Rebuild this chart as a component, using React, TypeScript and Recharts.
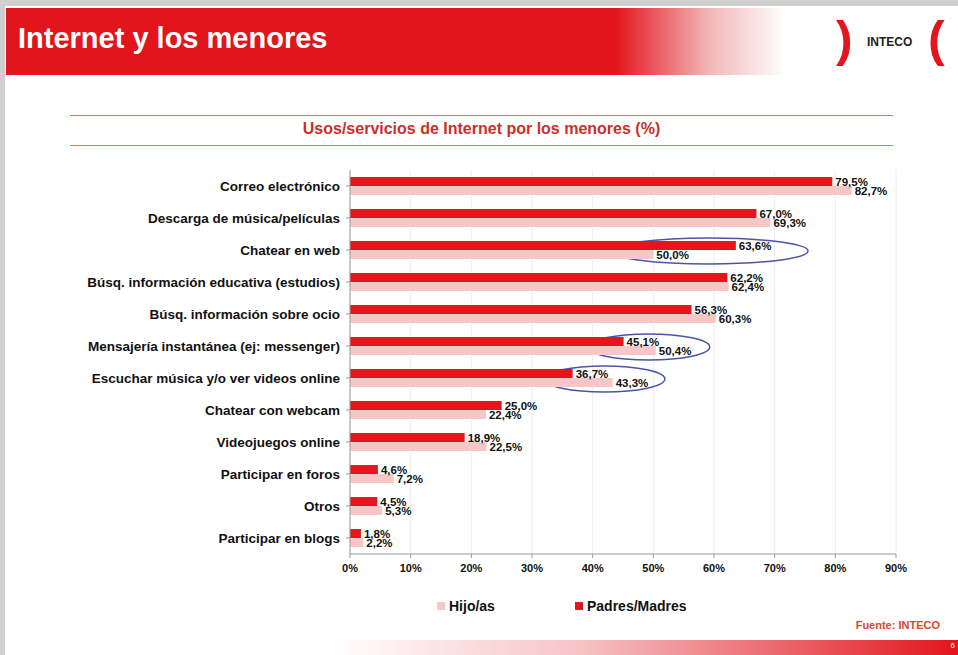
import React from "react";
import {
  BarChart,
  Bar,
  XAxis,
  YAxis,
  CartesianGrid,
  LabelList,
  ReferenceArea,
} from "recharts";

const categories = [
  "Correo electrónico",
  "Descarga de música/películas",
  "Chatear en web",
  "Búsq. información educativa (estudios)",
  "Búsq. información sobre ocio",
  "Mensajería instantánea (ej: messenger)",
  "Escuchar música y/o ver videos online",
  "Chatear con webcam",
  "Videojuegos online",
  "Participar en foros",
  "Otros",
  "Participar en blogs",
];

const padres = [79.5, 67.0, 63.6, 62.2, 56.3, 45.1, 36.7, 25.0, 18.9, 4.6, 4.5, 1.8];
const hijos = [82.7, 69.3, 50.0, 62.4, 60.3, 50.4, 43.3, 22.4, 22.5, 7.2, 5.3, 2.2];

const xTicks = [0, 10, 20, 30, 40, 50, 60, 70, 80, 90];

// highlighted rows (blue ellipses): category, from %, to %
const highlights: [string, number, number][] = [
  ["Chatear en web", 43.0, 75.5],
  ["Mensajería instantánea (ej: messenger)", 39.2, 59.3],
  ["Escuchar música y/o ver videos online", 32.0, 51.9],
];

const data = categories.map((name, i) => ({
  name,
  padres: padres[i],
  hijos: hijos[i],
}));

const RED = "#e3161d";
const PINK = "#f6c6c9";
const FONT = "'Liberation Sans', Arial, sans-serif";

const pct = (v: any) => `${Number(v).toFixed(1).replace(".", ",")}%`;

const Ellipse = (props: any) => {
  const { x, y, width, height } = props;
  return (
    <ellipse
      cx={x + width / 2}
      cy={y + height / 2 + 1}
      rx={width / 2}
      ry={height / 2 - 3}
      fill="none"
      stroke="#4a55a8"
      strokeWidth={1.5}
    />
  );
};

export default function App() {
  return (
    <div
      style={{
        position: "absolute",
        left: 0,
        top: 0,
        width: 958,
        height: 655,
        background: "#cfcfcf",
        overflow: "hidden",
        fontFamily: FONT,
      }}
    >
      <div
        style={{
          position: "absolute",
          left: 5,
          top: 6,
          width: 953,
          height: 649,
          background: "#fff",
        }}
      />
      {/* header band */}
      <div
        style={{
          position: "absolute",
          left: 6,
          top: 8,
          width: 780,
          height: 67,
          background:
            "linear-gradient(to right, #e2141c 0%, #e2141c 78%, #f3b5b7 90%, #ffffff 100%)",
        }}
      />
      <div
        style={{
          position: "absolute",
          left: 18,
          top: 22,
          color: "#fff",
          fontSize: 29,
          fontWeight: "bold",
          fontFamily: "'Liberation Sans Narrow', 'Liberation Sans', Arial, sans-serif",
        }}
      >
        Internet y los menores
      </div>
      {/* logo */}
      <div style={{ position: "absolute", left: 836, top: 10, color: RED, fontSize: 50, fontWeight: "bold" }}>)</div>
      <div style={{ position: "absolute", left: 867, top: 35, color: "#222", fontSize: 12, fontWeight: "bold" }}>INTECO</div>
      <div style={{ position: "absolute", left: 928, top: 10, color: RED, fontSize: 50, fontWeight: "bold" }}>(</div>

      {/* chart title */}
      <div style={{ position: "absolute", left: 70, top: 115, width: 823, height: 1, background: "#e07a5a" }} />
      <div style={{ position: "absolute", left: 70, top: 145, width: 823, height: 1, background: "#e07a5a" }} />
      <div
        style={{
          position: "absolute",
          left: 70,
          top: 120,
          width: 823,
          textAlign: "center",
          color: "#cc2f28",
          fontSize: 16,
          fontWeight: "bold",
        }}
      >
        Usos/servicios de Internet por los menores (%)
      </div>

      <div style={{ position: "absolute", left: 0, top: 150 }}>
        <BarChart
          width={958}
          height={440}
          data={data}
          layout="vertical"
          margin={{ top: 20, right: 62, bottom: 6, left: 0 }}
          barCategoryGap="22%"
          barGap={0}
        >
          <CartesianGrid horizontal={false} stroke="#eeeeee" />
          <XAxis
            type="number"
            domain={[0, 90]}
            ticks={xTicks}
            tickFormatter={(v) => `${v}%`}
            axisLine={{ stroke: "#999" }}
            tickLine={{ stroke: "#999" }}
            tickSize={4}
            tick={{ fontSize: 11, fontWeight: "bold", fill: "#111", fontFamily: FONT }}
            tickMargin={6}
          />
          <YAxis
            type="category"
            dataKey="name"
            width={350}
            axisLine={{ stroke: "#999" }}
            tickLine={{ stroke: "#999" }}
            tickSize={4}
            tickMargin={6}
            interval={0}
            tick={{ fontSize: 13.5, fontWeight: "bold", fill: "#111", fontFamily: FONT }}
          />
          <Bar dataKey="padres" fill={RED} isAnimationActive={false}>
            <LabelList
              dataKey="padres"
              position="right"
              offset={3}
              formatter={pct}
              style={{ fontSize: 11.5, fontWeight: "bold", fill: "#111", fontFamily: FONT }}
            />
          </Bar>
          <Bar dataKey="hijos" fill={PINK} isAnimationActive={false}>
            <LabelList
              dataKey="hijos"
              position="right"
              offset={3}
              formatter={pct}
              style={{ fontSize: 11.5, fontWeight: "bold", fill: "#111", fontFamily: FONT }}
            />
          </Bar>
          {highlights.map(([cat, x1, x2]) => (
            <ReferenceArea
              key={cat}
              y1={cat}
              y2={cat}
              x1={x1}
              x2={x2}
              shape={<Ellipse />}
              ifOverflow="visible"
            />
          ))}
        </BarChart>
      </div>

      {/* legend */}
      <div style={{ position: "absolute", left: 437, top: 598, display: "flex", alignItems: "center", fontSize: 14, fontWeight: "bold", color: "#111" }}>
        <span style={{ display: "inline-block", width: 8, height: 8, background: PINK, marginRight: 4 }} />
        Hijo/as
      </div>
      <div style={{ position: "absolute", left: 575, top: 598, display: "flex", alignItems: "center", fontSize: 14, fontWeight: "bold", color: "#111" }}>
        <span style={{ display: "inline-block", width: 8, height: 8, background: RED, marginRight: 4 }} />
        Padres/Madres
      </div>
      <div style={{ position: "absolute", right: 18, top: 619, color: "#e0452a", fontSize: 11, fontWeight: "bold" }}>
        Fuente: INTECO
      </div>

      {/* bottom band */}
      <div
        style={{
          position: "absolute",
          left: 330,
          top: 640,
          width: 628,
          height: 15,
          background: "linear-gradient(to right, #ffffff 0%, #f6c3c5 40%, #e2141c 100%)",
        }}
      />
      <div style={{ position: "absolute", right: 3, top: 641, color: "#fff", fontSize: 8 }}>6</div>
    </div>
  );
}
